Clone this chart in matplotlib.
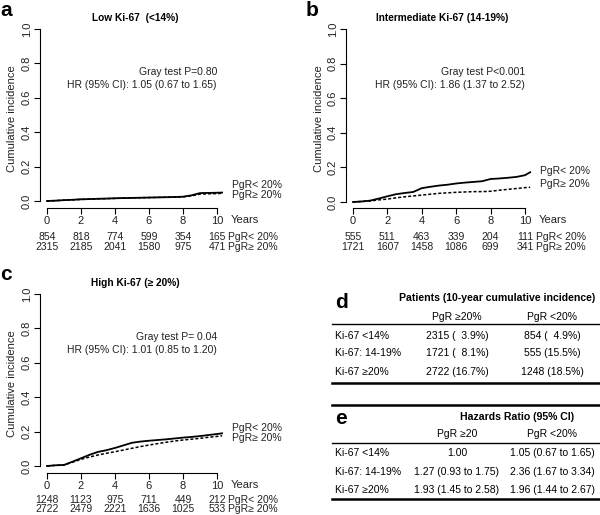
import matplotlib
matplotlib.use("Agg")
import matplotlib.pyplot as plt
from matplotlib.lines import Line2D

plt.rcParams['font.family'] = ['Liberation Sans', 'DejaVu Sans']

W, H = 600, 515

# --- curve data ---
years = [0, 0.5, 1, 1.5, 2, 2.5, 3, 3.5, 4, 4.5, 5, 5.5, 6, 6.5, 7, 7.5, 8, 8.5, 9, 9.5, 10, 10.3]

a_low = [0, 0.002, 0.005, 0.007, 0.01, 0.011, 0.013, 0.014, 0.016, 0.017, 0.018, 0.019, 0.02, 0.021,
         0.022, 0.023, 0.025, 0.033, 0.046, 0.047, 0.048, 0.049]
a_high = [0, 0.002, 0.005, 0.007, 0.009, 0.011, 0.012, 0.014, 0.015, 0.017, 0.018, 0.019, 0.02, 0.021,
          0.022, 0.023, 0.024, 0.03, 0.04, 0.042, 0.043, 0.045]

b_low = [0, 0.003, 0.008, 0.02, 0.033, 0.045, 0.052, 0.058, 0.08, 0.088, 0.095, 0.1, 0.107, 0.112,
         0.116, 0.12, 0.133, 0.136, 0.14, 0.145, 0.155, 0.172]
b_high = [0, 0.003, 0.006, 0.012, 0.017, 0.024, 0.03, 0.035, 0.04, 0.045, 0.05, 0.053, 0.056, 0.058,
          0.06, 0.06, 0.062, 0.068, 0.073, 0.078, 0.083, 0.085]

c_low = [0, 0.004, 0.006, 0.025, 0.045, 0.065, 0.082, 0.092, 0.105, 0.12, 0.135, 0.142, 0.147, 0.151,
         0.155, 0.16, 0.165, 0.169, 0.174, 0.18, 0.186, 0.19]
c_high = [0, 0.004, 0.006, 0.022, 0.039, 0.052, 0.064, 0.074, 0.083, 0.093, 0.103, 0.113, 0.122, 0.13,
          0.138, 0.145, 0.151, 0.156, 0.161, 0.167, 0.172, 0.176]

risk_ticks = [0, 2, 4, 6, 8, 10]
a_risk_low = [854, 818, 774, 599, 354, 165]
a_risk_high = [2315, 2185, 2041, 1580, 975, 471]
b_risk_low = [555, 511, 463, 339, 204, 111]
b_risk_high = [1721, 1607, 1458, 1086, 699, 341]
c_risk_low = [1248, 1123, 975, 711, 449, 212]
c_risk_high = [2722, 2479, 2221, 1636, 1025, 533]

titles = ["Low Ki-67  (<14%)", "Intermediate Ki-67 (14-19%)", "High Ki-67 (\u2265 20%)"]
gray_tests = ["Gray test P=0.80", "Gray test P<0.001", "Gray test P= 0.04"]
hr_texts = ["HR (95% CI): 1.05 (0.67 to 1.65)", "HR (95% CI): 1.86 (1.37 to 2.52)",
            "HR (95% CI): 1.01 (0.85 to 1.20)"]

# tables
row_labels = ["Ki-67 <14%", "Ki-67: 14-19%", "Ki-67 \u226520%"]
d_col1 = ["2315 (  3.9%)", "1721 (  8.1%)", "2722 (16.7%)"]
d_col2 = ["854 (  4.9%)", "555 (15.5%)", "1248 (18.5%)"]
e_col1 = ["1.00", "1.27 (0.93 to 1.75)", "1.93 (1.45 to 2.58)"]
e_col2 = ["1.05 (0.67 to 1.65)", "2.36 (1.67 to 3.34)", "1.96 (1.44 to 2.67)"]

lab_low = "PgR< 20%"
lab_high = "PgR\u2265 20%"

fig = plt.figure(figsize=(W / 100, H / 100), dpi=100)
TXT = '#222222'


def fx(px):
    return px / W


def fy(py):
    return 1 - py / H


def panel(letter, L, x0p, x10p, B, y0p, y1p, low, high, title, gtest, hr,
          rlow, rhigh, lab_y, risk_off):
    sx = (x10p - x0p) / 10.0
    sy = (y0p - y1p) / 1.0
    R = x10p + 10
    ax = fig.add_axes([fx(L), fy(B), (R - L) / W, (B - y1p) / H])
    ax.set_xlim(-(x0p - L) / sx, 10 + (R - x10p) / sx)
    ax.set_ylim(-(B - y0p) / sy, 1.0)

    def dy(py):
        return (y0p - py) / sy

    ax.plot(years, low, color='black', lw=1.3)
    ax.plot(years, high, color='black', lw=1.1, linestyle=(0, (2, 1.3)))

    for s in ['top', 'right']:
        ax.spines[s].set_visible(False)
    ax.spines['left'].set_bounds(0, 1)
    ax.spines['bottom'].set_bounds(0, 10)
    ax.spines['left'].set_linewidth(0.8)
    ax.spines['bottom'].set_linewidth(0.8)
    ax.set_xticks(risk_ticks)
    ax.set_yticks([0, 0.2, 0.4, 0.6, 0.8, 1.0])
    ax.set_yticklabels(["0.0", "0.2", "0.4", "0.6", "0.8", "1.0"], rotation=90, va='center')
    ax.tick_params(labelsize=8, length=4, width=0.8, color='black', labelcolor=TXT, pad=2)
    ax.set_ylabel("Cumulative incidence", fontsize=8, color=TXT, labelpad=3)

    ax.text(10 + 14 / sx, dy(B + 12), "Years", fontsize=8, ha='left', va='center', color=TXT)
    r1, r2 = B + risk_off[0], B + risk_off[1]
    for t, n1, n2 in zip(risk_ticks, rlow, rhigh):
        ax.text(t, dy(r1), str(n1), fontsize=7.5, ha='center', va='center', color=TXT)
        ax.text(t, dy(r2), str(n2), fontsize=7.5, ha='center', va='center', color=TXT)
    ax.text(10 + 11 / sx, dy(r1), lab_low, fontsize=7.5, ha='left', va='center', color=TXT)
    ax.text(10 + 11 / sx, dy(r2), lab_high, fontsize=7.5, ha='left', va='center', color=TXT)

    ax.text(10 + 15 / sx, dy(lab_y[0]), lab_low, fontsize=7.5, ha='left', va='center', color=TXT)
    ax.text(10 + 15 / sx, dy(lab_y[1]), lab_high, fontsize=7.5, ha='left', va='center', color=TXT)

    ax.text(10, dy(y1p + 43), gtest, fontsize=7.5, ha='right', va='center', color=TXT)
    ax.text(10, dy(y1p + 56), hr, fontsize=7.5, ha='right', va='center', color=TXT)
    ax.text(5.2, dy(y1p - 11), title, fontsize=7.3, ha='center', va='center', fontweight='bold')

    fig.text(fx(L - 40), fy(y1p - 19), letter, fontsize=15, fontweight='bold', ha='left', va='center')
    return ax


panel("a", 40, 47, 217, 208, 201, 29, a_low, a_high, titles[0], gray_tests[0], hr_texts[0],
      a_risk_low, a_risk_high, (185, 195), (29, 39))
panel("b", 346, 353, 525, 208, 202, 29, b_low, b_high, titles[1], gray_tests[1], hr_texts[1],
      b_risk_low, b_risk_high, (171, 184), (29, 39))
panel("c", 40, 47, 217, 473, 466, 294, c_low, c_high, titles[2], gray_tests[2], hr_texts[2],
      c_risk_low, c_risk_high, (428, 438), (27, 36))


def hline(y, lw):
    fig.add_artist(Line2D([fx(332), fx(600)], [fy(y), fy(y)], color='black', lw=lw))


col1_x, col2_x, lab_x = 457, 552, 335
fs = 7.5

# table d
fig.text(fx(335), fy(302), "d", fontsize=15, fontweight='bold', ha='left', va='center')
fig.text(fx(497), fy(298), "Patients (10-year cumulative incidence)", fontsize=7.6,
         fontweight='bold', ha='center', va='center')
fig.text(fx(col1_x), fy(317), "PgR \u226520%", fontsize=fs, ha='center', va='center')
fig.text(fx(col2_x), fy(317), "PgR <20%", fontsize=fs, ha='center', va='center')
hline(324, 1.0)
for i, yy in enumerate([336, 353, 372]):
    fig.text(fx(lab_x), fy(yy), row_labels[i], fontsize=fs, ha='left', va='center')
    fig.text(fx(col1_x), fy(yy), d_col1[i], fontsize=fs, ha='center', va='center')
    fig.text(fx(col2_x), fy(yy), d_col2[i], fontsize=fs, ha='center', va='center')
hline(383, 1.8)

# table e
hline(405, 1.8)
fig.text(fx(335), fy(418), "e", fontsize=15, fontweight='bold', ha='left', va='center')
fig.text(fx(517), fy(417), "Hazards Ratio (95% CI)", fontsize=7.6,
         fontweight='bold', ha='center', va='center')
fig.text(fx(col1_x), fy(434), "PgR \u226520", fontsize=fs, ha='center', va='center')
fig.text(fx(col2_x), fy(434), "PgR <20%", fontsize=fs, ha='center', va='center')
hline(443, 1.0)
for i, yy in enumerate([453, 472, 490]):
    fig.text(fx(lab_x), fy(yy), row_labels[i], fontsize=fs, ha='left', va='center')
    fig.text(fx(col1_x), fy(yy), e_col1[i], fontsize=fs, ha='center', va='center')
    fig.text(fx(col2_x), fy(yy), e_col2[i], fontsize=fs, ha='center', va='center')
hline(499, 1.8)

fig.savefig("out.png", dpi=100)
